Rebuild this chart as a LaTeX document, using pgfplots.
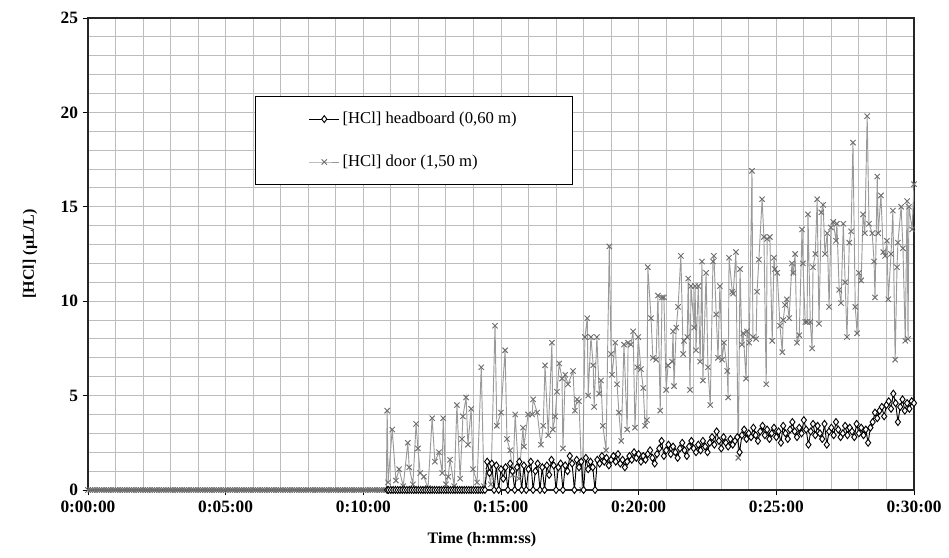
\documentclass[border=0pt]{standalone}
\usepackage{fontspec}
\setmainfont{Liberation Serif}
\usepackage{pgfplots}
\pgfplotsset{compat=1.18}
\definecolor{doorline}{HTML}{9A9A9A}
\definecolor{doormark}{HTML}{6F6F6F}
\definecolor{gridc}{HTML}{BDBDBD}
\begin{document}
\begin{tikzpicture}
\begin{axis}[
  scale only axis,
  width=619.5pt, height=354pt,
  xmin=0, xmax=1800, ymin=0, ymax=25,
  xtick={0,300,...,1800},
  xticklabels={0:00:00,0:05:00,0:10:00,0:15:00,0:20:00,0:25:00,0:30:00},
  minor xtick={60,120,...,1740},
  ytick={0,5,...,25},
  minor ytick={1,...,24},
  xtick pos=bottom, ytick pos=left,
  grid=both,
  major grid style={gridc, line width=0.7pt},
  minor grid style={gridc, line width=0.7pt},
  tick align=outside,
  major tick length=4pt,
  minor tick length=0pt,
  tick style={black, line width=0.6pt},
  axis line style={black!85, line width=0.9pt},
  /pgf/number format/assume math mode=true,
  ticklabel style={font=\bfseries\fontsize{13}{15}\selectfont},
  xticklabel style={yshift=-1pt},
  xlabel={\bfseries Time (h:mm:ss)},
  ylabel={\bfseries [HCl] (µL/L)},
  label style={font=\bfseries\fontsize{12}{14}\selectfont},
  x label style={at={(axis description cs:0.477,-0.106)}, anchor=center},
  y label style={at={(axis description cs:-0.070,0.5)}, anchor=center},
  legend style={at={(rel axis cs:0.202,0.835)}, anchor=north west, draw=black, line width=0.7pt,
    inner xsep=40pt, inner ysep=10pt, row sep=18pt, font=\fontsize{12.5}{14}\selectfont, fill=white},
  legend cell align=left,
  legend image code/.code={\draw[mark repeat=2,mark phase=2] plot coordinates {(0cm,0cm) (0.4cm,0cm) (0.8cm,0cm)};},
]
\coordinate (bl) at (rel axis cs:-0.1065,-0.1441);
\coordinate (tr) at (rel axis cs:1.0424,1.0381);
\addlegendimage{black, line width=0.7pt, mark=diamond*, mark size=2.6pt, mark options={fill=white, solid, line width=0.7pt}}
\addlegendentry{[HCl] headboard (0,60 m)}
\addlegendimage{doorline, line width=0.7pt, mark=x, mark size=2.8pt, mark options={doormark, line width=0.7pt}}
\addlegendentry{[HCl] door (1,50 m)}

% door
\addplot[forget plot, doorline, line width=0.7pt, mark=x, mark size=2.8pt, mark options={doormark, line width=0.7pt}] coordinates {
(0,0)(5,0)(10,0)(15,0)(20,0)(25,0)(30,0)(35,0)(40,0)(45,0)(50,0)(55,0)(60,0)(65,0)(70,0)(75,0)(80,0)(85,0)(90,0)(95,0)
(100,0)(105,0)(110,0)(115,0)(120,0)(125,0)(130,0)(135,0)(140,0)(145,0)(150,0)(155,0)(160,0)(165,0)(170,0)(175,0)(180,0)(185,0)(190,0)(195,0)
(200,0)(205,0)(210,0)(215,0)(220,0)(225,0)(230,0)(235,0)(240,0)(245,0)(250,0)(255,0)(260,0)(265,0)(270,0)(275,0)(280,0)(285,0)(290,0)(295,0)
(300,0)(305,0)(310,0)(315,0)(320,0)(325,0)(330,0)(335,0)(340,0)(345,0)(350,0)(355,0)(360,0)(365,0)(370,0)(375,0)(380,0)(385,0)(390,0)(395,0)
(400,0)(405,0)(410,0)(415,0)(420,0)(425,0)(430,0)(435,0)(440,0)(445,0)(450,0)(455,0)(460,0)(465,0)(470,0)(475,0)(480,0)(485,0)(490,0)(495,0)
(500,0)(505,0)(510,0)(515,0)(520,0)(525,0)(530,0)(535,0)(540,0)(545,0)(550,0)(555,0)(560,0)(565,0)(570,0)(575,0)(580,0)(585,0)(590,0)(595,0)
(600,0)(605,0)(610,0)(615,0)(620,0)(625,0)(630,0)(635,0)(640,0)(645,0)(650,0)
(652,4.2)(654,0.4)(663,3.2)(671,0.5)(678,1.1)(687,0.2)(697,2.5)(700,1.2)(708,0.3)(715,3.5)
(719,2.2)(724,0.9)(732,0.7)(741,0.1)(750,3.8)(756,1.5)(765,2.0)(772,0.9)(774,3.8)(780,0.3)
(785,0.7)(789,1.6)(798,0.2)(804,4.5)(811,0.6)(815,2.7)(817,3.9)(824,4.9)(828,2.4)(835,4.3)
(839,1.1)(848,0.4)(857,6.5)(863,0.2)(872,1.0)(878,0.3)(887,8.7)(891,3.4)(900,4.1)(909,7.4)
(913,2.7)(920,2.1)(926,0.8)(931,4.0)(939,0.6)(948,3.3)(950,2.3)(959,4.0)(968,4.0)(970,4.8)
(979,4.1)(987,2.4)(992,3.4)(996,6.6)(1003,2.9)(1011,7.8)(1013,3.2)(1018,3.9)(1022,5.2)(1027,6.7)
(1033,5.9)(1035,2.2)(1040,6.1)(1046,5.6)(1057,6.3)(1061,4.2)(1066,4.8)(1070,4.7)(1077,0.0)(1083,8.1)
(1088,9.1)(1090,5.0)(1096,8.1)(1101,6.6)(1103,4.4)(1109,8.1)(1114,5.1)(1118,5.8)(1122,3.4)(1129,2.1)
(1136,12.9)(1140,7.2)(1142,6.1)(1149,7.8)(1153,5.6)(1157,4.1)(1162,2.6)(1168,7.7)(1175,3.2)(1177,7.8)
(1183,7.7)(1188,8.4)(1192,3.3)(1197,6.5)(1199,8.1)(1205,6.4)(1210,5.4)(1214,3.4)(1218,3.7)(1220,11.8)
(1227,9.1)(1231,7.0)(1238,6.9)(1242,10.3)(1247,4.2)(1251,10.2)(1255,10.2)(1260,5.3)(1264,6.6)(1273,6.8)
(1275,8.4)(1277,5.5)(1282,8.6)(1286,9.7)(1292,12.4)(1297,7.2)(1299,7.9)(1306,8.1)(1308,11.2)(1312,5.3)
(1314,10.8)(1321,8.6)(1323,10.8)(1325,7.4)(1330,10.8)(1334,6.8)(1338,12.1)(1340,5.8)(1347,11.5)(1351,6.5)
(1356,4.5)(1362,12.1)(1364,12.4)(1369,9.3)(1373,7.0)(1377,10.8)(1382,6.9)(1386,7.8)(1393,6.3)(1395,4.9)
(1397,12.3)(1404,10.5)(1406,10.4)(1412,12.6)(1417,1.7)(1421,11.7)(1425,7.7)(1428,8.3)(1434,5.9)(1436,8.4)
(1441,7.8)(1447,16.9)(1449,8.1)(1456,8.0)(1458,10.5)(1462,12.2)(1469,15.4)(1473,13.4)(1478,5.6)(1480,13.3)
(1486,13.4)(1491,7.9)(1495,12.3)(1497,11.7)(1502,11.5)(1508,8.7)(1513,7.3)(1515,9.0)(1519,9.8)(1523,10.1)
(1528,9.1)(1534,12.0)(1537,11.5)(1541,12.5)(1545,7.8)(1550,8.2)(1556,13.8)(1558,12.0)(1563,8.9)(1567,8.9)
(1569,14.6)(1574,8.9)(1578,7.5)(1580,11.8)(1585,12.5)(1589,15.4)(1593,8.8)(1598,14.7)(1602,15.1)(1606,12.5)
(1611,13.6)(1615,9.7)(1619,13.9)(1624,14.2)(1630,13.2)(1632,14.1)(1637,10.6)(1641,9.9)(1646,14.1)(1650,11.0)
(1654,8.1)(1659,13.1)(1663,13.7)(1667,18.4)(1672,9.7)(1676,8.3)(1680,11.5)(1685,11.1)(1689,14.6)(1693,13.6)
(1698,19.8)(1702,14.1)(1709,13.6)(1713,12.1)(1715,10.2)(1720,16.6)(1722,13.6)(1728,15.6)(1733,12.6)(1737,12.4)
(1741,13.2)(1744,10.1)(1750,12.5)(1754,14.8)(1759,6.9)(1763,11.8)(1765,13.1)(1772,15.0)(1776,12.8)(1781,7.9)
(1785,15.3)(1787,8.0)(1789,15.0)(1796,13.8)(1800,16.2)
};

% headboard
\addplot[forget plot, black, line width=0.7pt, mark=diamond*, mark size=2.6pt, mark options={fill=white, solid, line width=0.7pt}] coordinates {
(652,0)(655,0)(660,0)(665,0)(670,0)(675,0)(680,0)(685,0)(690,0)(695,0)(700,0)(705,0)(710,0)(715,0)(720,0)(725,0)(730,0)(735,0)(740,0)(745,0)
(750,0)(755,0)(760,0)(765,0)(770,0)(775,0)(780,0)(785,0)(790,0)(795,0)(800,0)(805,0)(810,0)(815,0)(820,0)(825,0)(830,0)(835,0)(840,0)(845,0)
(850,0)(855,0)(860,0)(865,0)
(870,1.5)(875,0.9)(880,1.4)(885,0)(890,1.3)(895,0)(900,1.1)(905,0.6)(910,1.2)(915,0)
(920,1.4)(925,1.0)(930,0)(935,1.2)(940,1.5)(945,0)(950,1.3)(955,0)(960,1.1)(965,1.5)
(970,0)(975,1.0)(980,1.4)(985,0)(990,1.2)(995,0)(1000,1.3)(1005,0.8)(1010,1.6)(1015,1.3)
(1020,0)(1025,1.2)(1030,1.4)(1035,0)(1040,1.3)(1045,1.0)(1050,1.8)(1055,1.4)(1060,0)(1065,1.6)
(1070,1.2)(1075,1.5)(1080,0)(1085,1.7)(1090,1.1)(1095,1.5)(1100,1.2)(1105,0)
(1110,1.6)(1115,1.4)(1120,1.8)(1125,1.5)(1130,1.7)(1135,1.3)(1140,1.6)(1145,1.8)(1150,1.5)(1155,1.9)
(1160,1.4)(1165,1.6)(1170,1.2)(1175,1.5)(1180,1.8)(1185,1.6)(1190,2.0)(1195,1.7)(1200,1.9)(1205,1.5)
(1210,1.8)(1215,1.6)(1220,1.9)(1225,2.1)(1230,1.7)(1235,1.4)(1240,1.9)(1245,2.2)(1250,2.6)(1255,1.8)
(1260,2.1)(1265,2.4)(1270,1.9)(1275,2.3)(1280,2.0)(1285,1.7)(1290,2.2)(1295,2.5)(1300,2.1)(1305,1.8)
(1310,2.3)(1315,2.6)(1320,2.2)(1325,2.0)(1330,2.4)(1335,2.1)(1340,2.6)(1345,2.3)(1350,2.0)(1355,2.5)
(1360,2.8)(1365,2.4)(1370,3.1)(1375,2.6)(1380,2.2)(1385,2.8)(1390,2.5)(1395,2.3)(1400,2.7)(1405,2.4)
(1410,2.6)(1415,2.8)(1420,2.0)(1425,2.9)(1430,3.2)(1435,2.7)(1440,3.0)(1445,2.8)(1450,3.3)(1455,2.9)
(1460,2.6)(1465,3.1)(1470,3.4)(1475,2.9)(1480,3.2)(1485,2.7)(1490,3.0)(1495,3.3)(1500,2.8)(1505,3.1)
(1510,2.5)(1515,3.4)(1520,3.0)(1525,2.7)(1530,3.2)(1535,3.6)(1540,3.1)(1545,2.8)(1550,3.3)(1555,3.0)
(1560,3.7)(1565,3.2)(1570,2.4)(1575,3.1)(1580,3.5)(1585,2.9)(1590,3.4)(1595,3.0)(1600,2.7)(1605,3.5)
(1610,2.4)(1615,3.1)(1620,3.3)(1625,2.9)(1630,3.6)(1635,3.2)(1640,2.8)(1645,3.0)(1650,3.4)(1655,2.9)
(1660,3.3)(1665,3.1)(1670,2.8)(1675,3.5)(1680,3.0)(1685,3.3)(1690,2.9)(1695,3.2)(1700,2.5)(1705,3.3)
(1710,3.6)(1715,4.1)(1720,3.8)(1725,4.2)(1730,4.4)(1735,3.9)(1740,4.5)(1745,4.7)(1750,4.3)(1755,5.1)
(1760,4.6)(1765,3.6)(1770,4.4)(1775,4.8)(1780,4.2)(1785,4.6)(1790,4.3)(1795,4.7)(1800,4.6)
};
\end{axis}
\path (bl) rectangle (tr);
\end{tikzpicture}
\end{document}
